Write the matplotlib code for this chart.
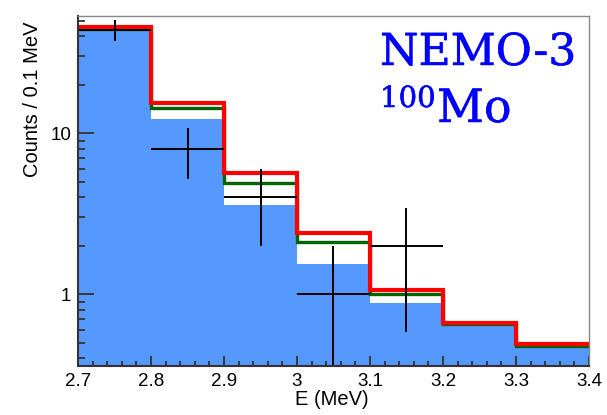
import numpy as np
import matplotlib
matplotlib.use("Agg")
import matplotlib.pyplot as plt
import matplotlib.patheffects as pe
from matplotlib.ticker import FixedLocator, LogLocator, NullFormatter, FuncFormatter

# Energy bin edges (MeV)
edges = [2.7, 2.8, 2.9, 3.0, 3.1, 3.2, 3.3, 3.4]

# 2nu-beta-beta background expectation (filled)
bkg_2nu = [43.0, 12.2, 3.57, 1.54, 0.88, 0.645, 0.472]
# total background (green)
bkg_total = [44.2, 14.3, 4.93, 2.12, 1.01, 0.655, 0.478]
# background + signal (red)
bkg_signal = [45.9, 15.5, 5.69, 2.40, 1.07, 0.667, 0.489]

# observed events, first five bins
data_x = [2.75, 2.85, 2.95, 3.05, 3.15]
data_counts = [44, 8, 4, 1, 2]

W, H = 607, 415
fig = plt.figure(figsize=(W / 100, H / 100), dpi=100)
ax = fig.add_axes([78 / W, 1 - 365.7 / H, (589 - 78) / W, (365.7 - 16) / H])

ax.set_yscale("log")
ax.set_xlim(2.7, 3.4)
ax.set_ylim(0.36, 53.5)

ax.stairs(bkg_2nu, edges, fill=True, baseline=1e-3, color="#5599ff", zorder=1)
ax.stairs(bkg_total, edges, baseline=None, color="#006400", lw=2.4, zorder=2)
ax.stairs(bkg_signal, edges, baseline=None, color="#ff0000", lw=3.0, zorder=3)

yerr = np.sqrt(np.array(data_counts, dtype=float))
ax.errorbar(data_x, data_counts, xerr=0.05, yerr=yerr, fmt="none",
            ecolor="black", elinewidth=1.4, capsize=0, zorder=4)

sans = ["Liberation Sans", "DejaVu Sans"]

# ticks
ax.xaxis.set_major_locator(FixedLocator(edges))
ax.xaxis.set_minor_locator(FixedLocator(np.round(np.arange(2.7, 3.4001, 0.02), 3)))
ax.xaxis.set_major_formatter(FuncFormatter(lambda v, p: f"{v:g}"))
ax.yaxis.set_major_locator(FixedLocator([1, 10]))
ax.yaxis.set_minor_locator(LogLocator(base=10, subs=np.arange(2, 10)))
ax.yaxis.set_major_formatter(FuncFormatter(lambda v, p: f"{v:g}"))
ax.yaxis.set_minor_formatter(NullFormatter())

ax.tick_params(axis="both", which="both", direction="in", top=False, right=False,
               width=1.3, color="#333333", labelsize=13.5, zorder=5)
ax.tick_params(axis="y", which="major", length=11.3, pad=5)
ax.tick_params(axis="y", which="minor", length=5)
ax.tick_params(axis="x", which="major", length=7.2, pad=5)
ax.tick_params(axis="x", which="minor", length=3.6)
for lab in ax.get_xticklabels() + ax.get_yticklabels():
    lab.set_family(sans)

for side in ("left", "bottom"):
    ax.spines[side].set_color("#333333")
    ax.spines[side].set_linewidth(1.5)
for side in ("top", "right"):
    ax.spines[side].set_color("#888888")
    ax.spines[side].set_linewidth(1.0)
for sp in ax.spines.values():
    sp.set_zorder(6)

fig.text(33 / W, 1 - 99 / H, "Counts / 0.1 MeV", rotation=90, ha="center",
         va="center", fontsize=14.5, family=sans)
fig.text(332 / W, 1 - 399 / H, "E (MeV)", ha="center", va="center",
         fontsize=14.5, family=sans)

# experiment / isotope caption, slightly thickened strokes
serif = ["DejaVu Serif"]
heavy = [pe.withStroke(linewidth=0.35, foreground="#0000ff")]
fig.text(380 / W, 1 - 65 / H, "NEMO-3", ha="left", va="baseline",
         fontsize=31.7, color="#0000ff", family=serif, path_effects=heavy)
fig.text(380 / W, 1 - 107 / H, "100", ha="left", va="baseline",
         fontsize=21, color="#0000ff", family=serif, path_effects=heavy)
fig.text(437 / W, 1 - 122 / H, "Mo", ha="left", va="baseline",
         fontsize=33, color="#0000ff", family=serif, path_effects=heavy)

fig.savefig("out.png", dpi=100)
